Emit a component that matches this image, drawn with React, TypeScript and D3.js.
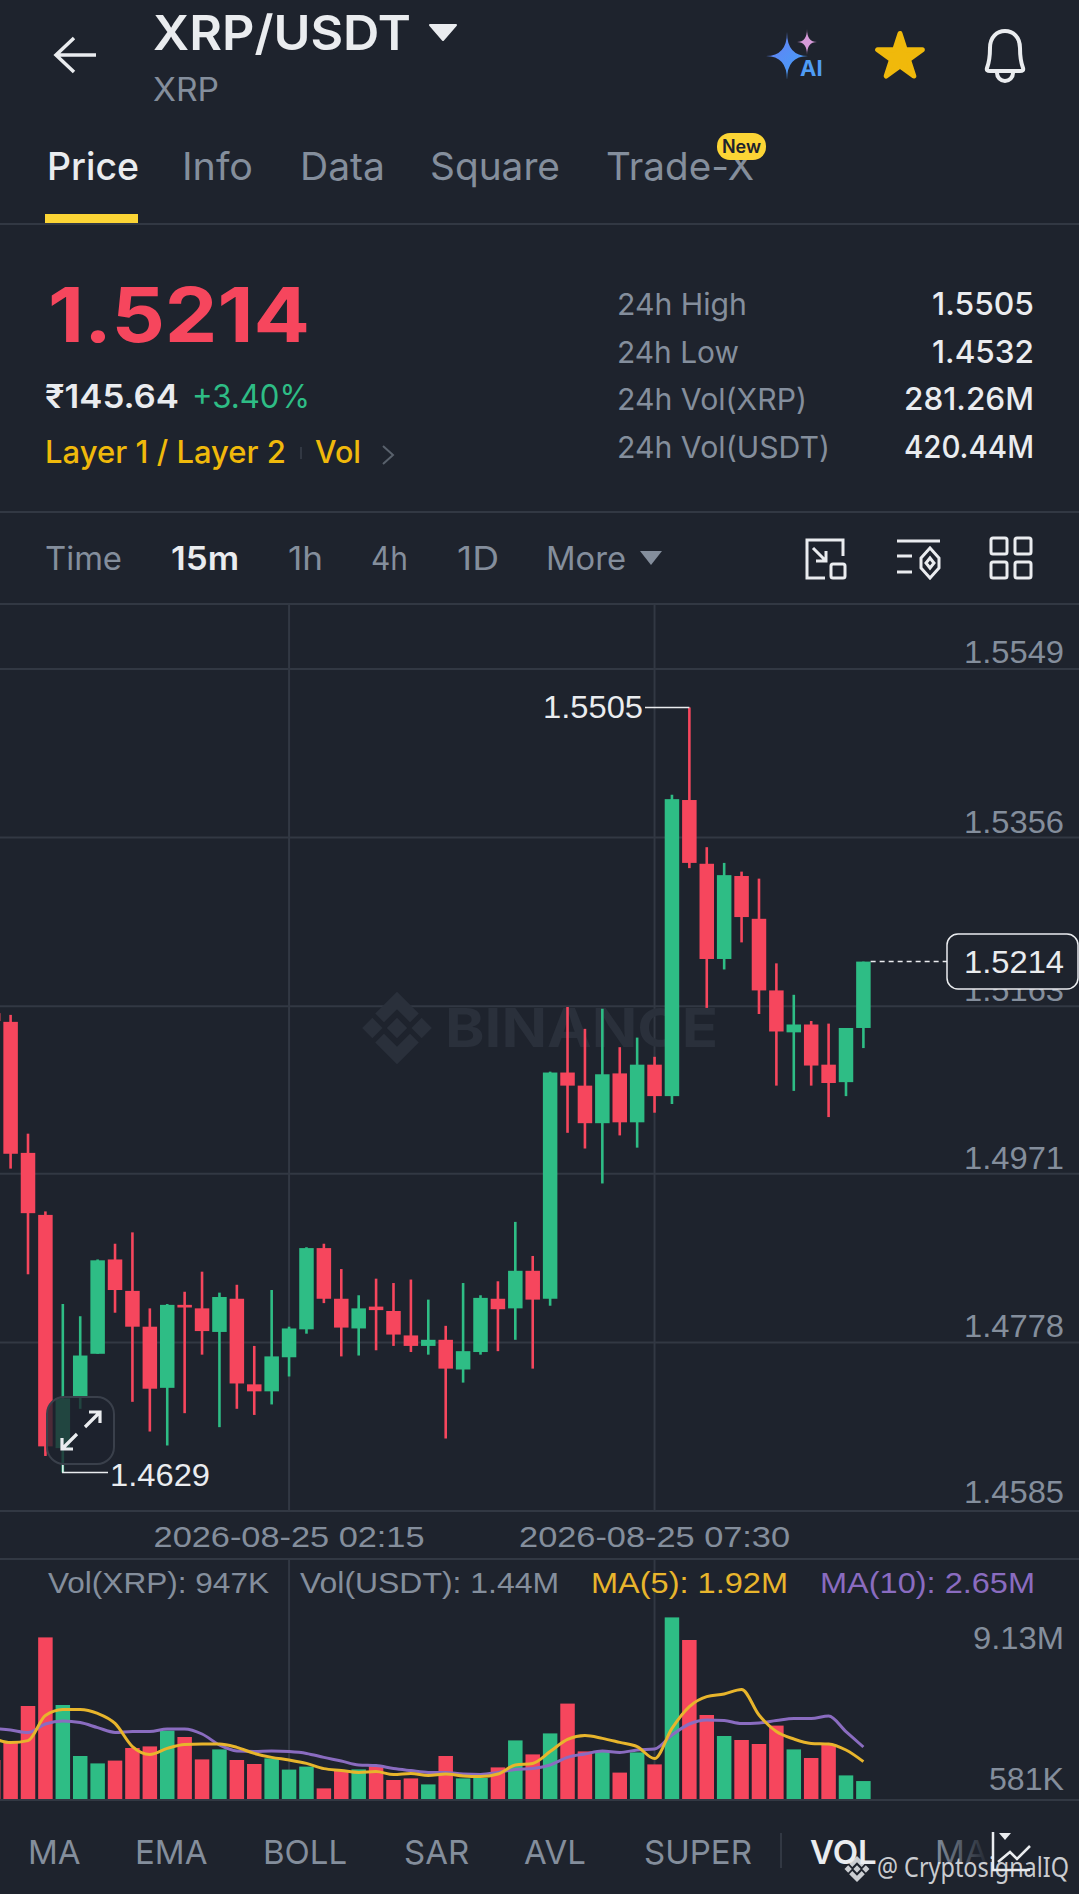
import * as d3 from "d3";
import { useEffect, useRef } from "react";

const W = 1079;
const H = 1894;

const BG = "#1e232d";
const GRID = "#323843";
const RED = "#f6465d";
const GREEN = "#2ebd85";
const GREY = "#848e9c";
const WHITE = "#eaecef";
const YELLOW = "#f0b90b";
const PURPLE = "#8a6cc0";
const UI_FONT = "Inter, sans-serif";
const NUM_FONT = "'Liberation Sans', sans-serif";

// one entry per 15m candle, first one is almost off the left edge
const opens = [1.5155, 1.5145, 1.4995, 1.4924, 1.4657, 1.4716, 1.4765, 1.4873, 1.4837, 1.4796, 1.4726, 1.4821, 1.4817, 1.479, 1.4828, 1.473, 1.4722, 1.4761, 1.4793, 1.4886, 1.4828, 1.4794, 1.4819, 1.4814, 1.4786, 1.4774, 1.4781, 1.4747, 1.4767, 1.4828, 1.4817, 1.486, 1.4828, 1.5087, 1.5072, 1.5029, 1.5086, 1.503, 1.5096, 1.506, 1.5399, 1.5326, 1.5217, 1.5312, 1.5263, 1.5181, 1.5133, 1.5142, 1.5096, 1.5076, 1.5138];
const closes = [1.5146, 1.4994, 1.4926, 1.4659, 1.4714, 1.4763, 1.4872, 1.4838, 1.4796, 1.4725, 1.4821, 1.4818, 1.4791, 1.483, 1.4731, 1.4722, 1.4762, 1.4794, 1.4886, 1.4828, 1.4795, 1.4817, 1.4815, 1.4787, 1.4774, 1.4781, 1.4748, 1.4768, 1.4829, 1.4816, 1.486, 1.4827, 1.5087, 1.5072, 1.5029, 1.5085, 1.503, 1.5096, 1.506, 1.54, 1.5327, 1.5217, 1.5313, 1.5265, 1.5181, 1.5134, 1.5142, 1.5095, 1.5075, 1.5138, 1.5214];
const highs = [1.516, 1.5153, 1.5017, 1.4928, 1.4822, 1.4808, 1.4873, 1.4891, 1.4904, 1.4817, 1.4822, 1.4836, 1.4859, 1.4835, 1.4844, 1.4774, 1.4838, 1.4796, 1.4887, 1.4891, 1.4862, 1.4832, 1.4851, 1.4846, 1.485, 1.4827, 1.4797, 1.4846, 1.4832, 1.4848, 1.4916, 1.4877, 1.5088, 1.5162, 1.5137, 1.516, 1.5116, 1.5127, 1.5105, 1.5405, 1.5505, 1.5345, 1.5327, 1.5317, 1.5309, 1.5212, 1.5176, 1.5146, 1.5143, 1.5138, 1.5214];
const lows = [1.514, 1.4977, 1.4856, 1.4648, 1.4629, 1.4702, 1.4765, 1.4812, 1.471, 1.4676, 1.466, 1.4697, 1.4764, 1.4681, 1.4702, 1.4695, 1.4707, 1.4739, 1.4788, 1.4823, 1.4762, 1.4763, 1.4769, 1.4774, 1.4767, 1.4764, 1.4668, 1.4732, 1.4764, 1.4768, 1.4781, 1.4748, 1.482, 1.5018, 1.5, 1.496, 1.5015, 1.5001, 1.5041, 1.5051, 1.5321, 1.5161, 1.5205, 1.5236, 1.5154, 1.5072, 1.5066, 1.5072, 1.5036, 1.506, 1.5115];
// volume in millions of XRP
const volumes = [2.0, 2.87, 4.7, 8.13, 4.75, 2.2, 1.83, 1.97, 2.6, 2.68, 3.47, 3.15, 2.03, 2.53, 2.0, 1.8, 2.08, 1.52, 1.67, 0.581, 1.45, 1.53, 1.7, 1.0, 1.08, 0.78, 2.2, 1.08, 1.1, 1.63, 2.98, 2.28, 3.33, 4.82, 2.43, 2.45, 1.37, 2.38, 1.78, 9.13, 8.0, 4.25, 3.2, 3.0, 2.8, 3.72, 2.53, 2.1, 2.75, 1.23, 0.947];
const ma5 = [3.08, 2.87, 2.97, 4.22, 4.52, 4.53, 4.33, 3.83, 2.67, 2.28, 2.58, 2.78, 2.8, 2.8, 2.63, 2.33, 2.13, 2.0, 1.83, 1.57, 1.48, 1.38, 1.42, 1.27, 1.33, 1.22, 1.3, 1.2, 1.17, 1.3, 1.75, 1.83, 2.42, 3.03, 3.22, 3.08, 2.88, 2.67, 2.07, 3.58, 4.67, 5.17, 5.3, 5.53, 4.25, 3.42, 3.05, 2.83, 2.8, 2.5, 1.92];
const ma10 = [3.58, 3.5, 3.37, 3.8, 3.95, 3.87, 3.62, 3.38, 3.43, 3.42, 3.55, 3.55, 3.3, 2.75, 2.45, 2.43, 2.45, 2.42, 2.33, 2.13, 1.95, 1.75, 1.72, 1.57, 1.47, 1.38, 1.37, 1.3, 1.28, 1.38, 1.53, 1.58, 1.75, 2.13, 2.3, 2.45, 2.38, 2.5, 2.55, 3.25, 3.8, 4.0, 3.97, 3.82, 3.85, 3.97, 4.08, 4.07, 4.2, 3.42, 2.65];

const priceTicks = ["1.5549", "1.5356", "1.5163", "1.4971", "1.4778", "1.4585"];
const timeTicks = [
    { candle: 17, label: "2026-08-25 02:15" },
    { candle: 38, label: "2026-08-25 07:30" },
];
const navTabs = ["Price", "Info", "Data", "Square", "Trade-X"];
const navTabX = [47, 182, 300, 430, 606];
const navTabW = [92, 71, 85, 130, 148];
const statLabels = ["24h High", "24h Low", "24h Vol(XRP)", "24h Vol(USDT)"];
const statLabelW = [130, 122, 190, 213];
const statValues = ["1.5505", "1.4532", "281.26M", "420.44M"];
const statValueW = [102, 102, 130, 130];
const intervals = ["Time", "15m", "1h", "4h", "1D", "More"];
const intervalX = [45, 171, 288, 371, 457, 546];
const intervalW = [77, 68, 35, 37, 42, 80];
const indicators = ["MA", "EMA", "BOLL", "SAR", "AVL", "SUPER"];
const indicatorX = [28, 135, 263, 404, 524, 644];

function sparkle(cx: number, cy: number, rx: number, ry: number) {
    return `M${cx},${cy - ry}Q${cx},${cy} ${cx + rx},${cy}Q${cx},${cy} ${cx},${cy + ry}Q${cx},${cy} ${cx - rx},${cy}Q${cx},${cy} ${cx},${cy - ry}Z`;
}

export default function App() {
    const ref = useRef<SVGSVGElement | null>(null);

    useEffect(() => {
        if (!ref.current) return;
        document.body.style.margin = "0";

        const svg = d3.select(ref.current);
        svg.selectAll("*").remove();

        const x = d3.scaleLinear().domain([0, opens.length - 1]).range([-6.8, 863.4]);
        const y = d3.scaleLinear().domain([1.4585, 1.5549]).range([1511, 669]);
        const yVol = d3.scaleLinear().domain([0, 9.13]).range([1800, 1617.4]);
        const bodyW = 14.5;

        // w forces the width of the string, the reference font is wider than what we have
        const text = (
            s: string, px: number, py: number, size: number, fill: string,
            opts: { anchor?: string; weight?: number; font?: string; w?: number } = {}
        ) => {
            const t = svg.append("text")
                .attr("x", px)
                .attr("y", py)
                .attr("font-size", size)
                .attr("fill", fill)
                .attr("text-anchor", opts.anchor ?? "start")
                .attr("font-weight", opts.weight ?? 400)
                .attr("font-family", opts.font ?? UI_FONT)
                .text(s);
            if (opts.w) t.attr("textLength", opts.w).attr("lengthAdjust", "spacingAndGlyphs");
            return t;
        };

        const hline = (py: number, x1 = 0, x2 = W, color = GRID, w = 2) =>
            svg.append("line").attr("x1", x1).attr("x2", x2).attr("y1", py).attr("y2", py)
                .attr("stroke", color).attr("stroke-width", w);

        const defs = svg.append("defs");
        const grad = defs.append("linearGradient").attr("id", "aiGrad").attr("x1", 0).attr("x2", 1).attr("y1", 0).attr("y2", 1);
        grad.append("stop").attr("offset", "0%").attr("stop-color", "#6a7cf6");
        grad.append("stop").attr("offset", "100%").attr("stop-color", "#3fa4f5");
        const fade = defs.append("linearGradient").attr("id", "maFade").attr("x1", 0).attr("x2", 1);
        fade.append("stop").attr("offset", "0%").attr("stop-color", GREY);
        fade.append("stop").attr("offset", "100%").attr("stop-color", GREY).attr("stop-opacity", 0.05);

        svg.append("rect").attr("width", W).attr("height", H).attr("fill", BG);

        // header
        svg.append("path").attr("d", "M96,55H56M74,38L56,55L74,72")
            .attr("fill", "none").attr("stroke", WHITE).attr("stroke-width", 3.5);
        text("XRP/USDT", 153, 50, 48, WHITE, { weight: 600, w: 258 });
        svg.append("path").attr("d", "M430,25H456L443,40Z").attr("fill", WHITE).attr("stroke", WHITE).attr("stroke-linejoin", "round").attr("stroke-width", 2);
        text("XRP", 153, 101, 32, GREY, { w: 66 });

        svg.append("path").attr("d", sparkle(787, 56, 21, 24)).attr("fill", "url(#aiGrad)");
        svg.append("path").attr("d", sparkle(807, 42, 10, 13)).attr("fill", "#d69ad8");
        text("AI", 800, 76, 22, "#4f9cf5", { weight: 700 });

        svg.append("path")
            .attr("d", d3.symbol().type(d3.symbolStar).size(620)())
            .attr("transform", "translate(900,57)")
            .attr("fill", YELLOW).attr("stroke", YELLOW).attr("stroke-width", 5).attr("stroke-linejoin", "round");

        svg.append("path")
            .attr("d", "M987,68C990,60 990,55 990,48C990,37 997,31 1005,31C1013,31 1020,37 1020,48C1020,55 1020,60 1023,68Q1024,71 1020,71L990,71Q986,71 987,68ZM997,73A8,8 0 0 0 1013,73")
            .attr("fill", "none").attr("stroke", WHITE).attr("stroke-width", 4);

        // nav tabs
        navTabs.forEach((t, i) => text(t, navTabX[i], 180, 38, i === 0 ? WHITE : GREY, { weight: i === 0 ? 500 : 400, w: navTabW[i] }));
        svg.append("rect").attr("x", 717).attr("y", 133).attr("width", 49).attr("height", 27).attr("rx", 13).attr("fill", "#fcd535");
        text("New", 741.5, 153, 18, "#1e232d", { anchor: "middle", weight: 600 });
        svg.append("rect").attr("x", 45).attr("y", 214).attr("width", 93).attr("height", 9).attr("fill", "#fcd535");
        hline(224);

        // price block
        text("1.5214", 48, 342, 76, RED, { weight: 700, w: 262 });
        text("₹145.64", 45, 408, 32, WHITE, { weight: 600, w: 134 });
        text("+3.40%", 192, 408, 32, GREEN, { w: 118 });
        text("Layer 1 / Layer 2", 45, 463, 31, YELLOW, { weight: 500, w: 241 });
        svg.append("line").attr("x1", 301).attr("x2", 301).attr("y1", 447).attr("y2", 459).attr("stroke", GRID).attr("stroke-width", 2);
        text("Vol", 315, 463, 31, YELLOW, { weight: 500, w: 46 });
        svg.append("path").attr("d", "M383,446L393,455L383,464").attr("fill", "none").attr("stroke", "#59616c").attr("stroke-width", 2);

        statLabels.forEach((t, i) => {
            const py = 315 + i * 47.7;
            text(t, 617, py, 30, GREY, { w: statLabelW[i] });
            text(statValues[i], 1034, py, 31, WHITE, { anchor: "end", weight: 500, w: statValueW[i] });
        });
        hline(512);

        // interval row
        intervals.forEach((t, i) => text(t, intervalX[i], 570, 32, i === 1 ? WHITE : GREY, { weight: i === 1 ? 600 : 400, w: intervalW[i] }));
        svg.append("path").attr("d", "M640,551H662L651,565Z").attr("fill", GREY);

        svg.append("path")
            .attr("d", "M825,578H807V540H843V556M813,548L826,561M826,551V561H816")
            .attr("fill", "none").attr("stroke", WHITE).attr("stroke-width", 3);
        svg.append("rect").attr("x", 831).attr("y", 564).attr("width", 14).attr("height", 14).attr("rx", 2)
            .attr("fill", "none").attr("stroke", WHITE).attr("stroke-width", 3);
        svg.append("path")
            .attr("d", "M897,541H940M897,556H912M897,572H912M930,548L939,558V568L930,578L921,568V558ZM930,558L934,563L930,568L926,563Z")
            .attr("fill", "none").attr("stroke", WHITE).attr("stroke-width", 3);
        [[991, 538], [1015, 538], [991, 562], [1015, 562]].forEach(([rx, ry]) =>
            svg.append("rect").attr("x", rx).attr("y", ry).attr("width", 16).attr("height", 16).attr("rx", 2)
                .attr("fill", "none").attr("stroke", WHITE).attr("stroke-width", 3)
        );
        hline(604);

        // grid
        priceTicks.forEach(t => hline(y(+t)));
        timeTicks.forEach(t => {
            svg.append("line").attr("x1", x(t.candle)).attr("x2", x(t.candle)).attr("y1", 604).attr("y2", 1511)
                .attr("stroke", GRID).attr("stroke-width", 2);
            svg.append("line").attr("x1", x(t.candle)).attr("x2", x(t.candle)).attr("y1", 1559).attr("y2", 1800)
                .attr("stroke", GRID).attr("stroke-width", 2);
            text(t.label, x(t.candle), 1547, 30, GREY, { anchor: "middle", font: NUM_FONT, w: 271 });
        });

        // watermark
        const logo = (cx: number, cy: number, s: number, fill: string, opacity = 1) => {
            const g = svg.append("g").attr("transform", `translate(${cx},${cy}) scale(${s})`).attr("fill", fill).attr("opacity", opacity);
            g.append("path").attr("d", "M0,-7L7,0L0,7L-7,0Z");
            g.append("path").attr("d", "M-24,0L-17,-7L-10,0L-17,7Z");
            g.append("path").attr("d", "M24,0L17,-7L10,0L17,7Z");
            g.append("path").attr("d", "M0,-25L15,-10L9,-4L0,-13L-9,-4L-15,-10Z");
            g.append("path").attr("d", "M0,25L15,10L9,4L0,13L-9,4L-15,10Z");
        };
        logo(397, 1028, 1.45, "#2a303b");
        text("BINANCE", 445, 1047, 54, "#2a303b", { weight: 700, w: 273 });

        // labels sit on their line, the bottom one a bit higher
        priceTicks.forEach((t, i) =>
            text(t, 1064, y(+t) - (i === priceTicks.length - 1 ? 8 : i === 0 ? 6 : 5), 30.5, GREY, { anchor: "end", font: NUM_FONT, w: 100 })
        );

        // candles
        const candles = svg.append("g").selectAll("g").data(d3.range(opens.length)).join("g")
            .attr("fill", i => (closes[i] >= opens[i] ? GREEN : RED))
            .attr("stroke", i => (closes[i] >= opens[i] ? GREEN : RED));
        candles.append("line")
            .attr("x1", i => x(i)).attr("x2", i => x(i))
            .attr("y1", i => y(highs[i])).attr("y2", i => y(lows[i]))
            .attr("stroke-width", 2.6);
        candles.append("rect")
            .attr("x", i => x(i) - bodyW / 2)
            .attr("width", bodyW)
            .attr("y", i => y(Math.max(opens[i], closes[i])))
            .attr("height", i => Math.max(2, Math.abs(y(opens[i]) - y(closes[i]))))
            .attr("stroke", "none");

        // high / low markers
        const hi = d3.maxIndex(highs);
        const lo = d3.minIndex(lows);
        hline(y(highs[hi]), 645, x(hi), WHITE, 1.5);
        text("1.5505", 643, 718, 30.5, WHITE, { anchor: "end", font: NUM_FONT, w: 100 });
        svg.append("path").attr("d", `M${x(lo)},${y(lows[lo]) - 8}V${y(lows[lo])}H108`).attr("fill", "none").attr("stroke", WHITE).attr("stroke-width", 1.5);
        text("1.4629", 110, 1486, 30.5, WHITE, { font: NUM_FONT, w: 100 });

        // last price tag
        const last = closes[closes.length - 1];
        svg.append("line").attr("x1", x(opens.length - 1) + bodyW / 2).attr("x2", 947).attr("y1", y(last)).attr("y2", y(last))
            .attr("stroke", WHITE).attr("stroke-width", 1.5).attr("stroke-dasharray", "5 4");
        svg.append("rect").attr("x", 947).attr("y", 934).attr("width", 131).attr("height", 55).attr("rx", 11)
            .attr("fill", BG).attr("stroke", WHITE).attr("stroke-width", 1.5);
        text("1.5214", 1064, 973, 30.5, WHITE, { anchor: "end", font: NUM_FONT, w: 100 });

        // fullscreen button
        svg.append("rect").attr("x", 47).attr("y", 1397).attr("width", 67).attr("height", 67).attr("rx", 17)
            .attr("fill", BG).attr("fill-opacity", 0.78).attr("stroke", "#3a404b").attr("stroke-width", 2);
        svg.append("path")
            .attr("d", "M62,1449L77,1434M62,1438V1449H73M85,1427L100,1412M89,1412H100V1423")
            .attr("fill", "none").attr("stroke", WHITE).attr("stroke-width", 3.2);

        // volume panel
        hline(1559);
        text("Vol(XRP): 947K", 48, 1593, 30, GREY, { font: NUM_FONT, w: 221 });
        text("Vol(USDT): 1.44M", 300, 1593, 30, GREY, { font: NUM_FONT, w: 259 });
        text("MA(5): 1.92M", 591, 1593, 30, "#e8b52c", { font: NUM_FONT, w: 197 });
        text("MA(10): 2.65M", 820, 1593, 30, PURPLE, { font: NUM_FONT, w: 215 });
        text("9.13M", 1064, 1649, 30.5, GREY, { anchor: "end", font: NUM_FONT, w: 91 });
        text("581K", 1064, 1790, 30.5, GREY, { anchor: "end", font: NUM_FONT, w: 75 });

        svg.append("g").selectAll("rect").data(d3.range(volumes.length)).join("rect")
            .attr("x", i => x(i) - bodyW / 2)
            .attr("width", bodyW)
            .attr("y", i => yVol(volumes[i]))
            .attr("height", i => yVol(0) - yVol(volumes[i]))
            .attr("fill", i => (closes[i] >= opens[i] ? GREEN : RED));

        const line = d3.line<number>().x((_, i) => x(i)).y(d => yVol(d)).curve(d3.curveMonotoneX);
        svg.append("path").attr("d", line(ma10)).attr("fill", "none").attr("stroke", PURPLE).attr("stroke-width", 3);
        svg.append("path").attr("d", line(ma5)).attr("fill", "none").attr("stroke", "#e8b52c").attr("stroke-width", 3);
        hline(1800);

        // indicator tabs
        indicators.forEach((t, i) => text(t, indicatorX[i], 1864, 33, GREY));
        svg.append("line").attr("x1", 781).attr("x2", 781).attr("y1", 1833).attr("y2", 1868).attr("stroke", GRID).attr("stroke-width", 2);
        text("VOL", 810, 1864, 33, WHITE, { weight: 600 });
        text("MA", 935, 1864, 33, "url(#maFade)");
        svg.append("path").attr("d", "M993,1832V1870H1030M998,1862L1010,1852L1017,1859L1030,1846")
            .attr("fill", "none").attr("stroke", WHITE).attr("stroke-width", 2.5);
        svg.append("path").attr("d", "M999,1833H1011L1005,1840Z").attr("fill", WHITE);

        // photo credit over the screenshot
        logo(857, 1869, 0.52, WHITE, 0.85);
        text("@ CryptosignalIQ", 877, 1877, 27, WHITE, { font: "'Noto Sans', sans-serif", w: 192 }).attr("fill-opacity", 0.85);
    }, []);

    return <svg ref={ref} width={W} height={H} style={{ position: "absolute", left: 0, top: 0, display: "block" }} />;
}
